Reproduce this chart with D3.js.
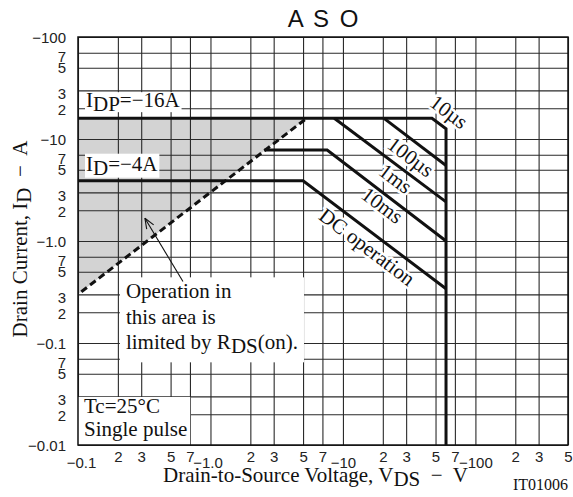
<!DOCTYPE html>
<html>
<head>
<meta charset="utf-8">
<script src="https://cdn.jsdelivr.net/npm/d3@7"></script>
<style>
    body { margin: 0; background: #fff; }
    svg text { white-space: pre; }
    .serif { font-family: "Liberation Serif", "Times New Roman", serif; font-size: 21px; fill: #111; }
    .tick text { font-family: "Liberation Sans", Arial, sans-serif; font-size: 15px; fill: #222; }
</style>
</head>
<body>
<svg id="chart" width="573" height="497"></svg>
<script>

// DATA
// P-channel part: values are magnitudes, the labels carry the minus sign

var xTicks      = [0.1, 0.2, 0.3, 0.5, 0.7, 1, 2, 3, 5, 7, 10, 20, 30, 50, 70, 100, 200, 300, 500];
var xTickLabels = ['\u22120.1', '2', '3', '5', '7', '\u22121.0', '2', '3', '5', '7',
                   '\u221210', '2', '3', '5', '7', '\u2212100', '2', '3', '5'];
var yTicks      = [0.01, 0.02, 0.03, 0.05, 0.07, 0.1, 0.2, 0.3, 0.5, 0.7, 1, 2, 3, 5, 7,
                   10, 20, 30, 50, 70, 100];
var yTickLabels = ['\u22120.01', '2', '3', '5', '7', '\u22120.1', '2', '3', '5', '7',
                   '\u22121.0', '2', '3', '5', '7', '\u221210', '2', '3', '5', '7', '\u2212100'];

// [V, I] corner points of each limit line
var curve10us   = [[0.1, 16], [47, 16], [60, 12.6], [60, 0.01]];
var curve100us  = [[20.3, 16], [60, 5.5]];
var curve1ms    = [[8.6, 16], [60, 2.42]];
var curve10ms   = [[2.55, 7.8], [7.6, 7.8], [60, 1.0]];
var curveDC     = [[0.1, 3.9], [5.0, 3.9], [60, 0.34]];

var rdsLine     = [[0.106, 0.318], [5.33, 16]];
var rdsArea     = [[0.1, 16], [5.33, 16], [0.1, 0.3]];

var curveLabels   = ['10\u00b5s', '100\u00b5s', '1ms', '10ms', 'DC operation'];
var curveLabelAt  = [[63, 18.4], [32.4, 6.66], [24.9, 4.09], [19.8, 2.24], [15.2, 0.875]];

var arrowFrom   = [0.62, 0.40];
var arrowTo     = [0.32, 1.67];


// SETUP

var svg = d3.select( '#chart' );

var plot = { left: 78, right: 568, top: 37, bottom: 445 };

var x = d3.scaleLog()
            .domain( [0.1, 500] )
            .range( [plot.left, plot.right] );
var y = d3.scaleLog()
            .domain( [0.01, 100] )
            .range( [plot.bottom, plot.top] );

var line = d3.line()
                .x( function( d ) { return x( d[0] ); } )
                .y( function( d ) { return y( d[1] ); } );


// HELPERS

// Appends serif text; parts flagged 1 are drawn as subscripts
function richText( parent, px, py, parts ) {
    var t = parent.append( 'text' )
                    .attr( 'class', 'serif' )
                    .attr( 'x', px )
                    .attr( 'y', py );
    var sub = 0;
    parts.forEach( function( p ) {
        var shift = ( p[1] - sub ) * 4;
        t.append( 'tspan' ).attr( 'dy', shift ).text( p[0] );
        sub = p[1];
    } );
    return t;
}

function whiteBox( parent, x0, y0, x1, y1 ) {
    return parent.insert( 'rect', ':first-child' )
                    .attr( 'x', x0 ).attr( 'y', y0 )
                    .attr( 'width', x1 - x0 ).attr( 'height', y1 - y0 )
                    .attr( 'fill', '#fff' );
}


// SHADED RDS(on) AREA

svg.append( 'path' )
    .datum( rdsArea )
    .attr( 'd', function( d ) { return line( d ) + 'Z'; } )
    .attr( 'fill', '#d3d3d3' );


// GRID

svg.append( 'g' )
    .attr( 'class', 'grid' )
    .attr( 'transform', 'translate(0,' + plot.bottom + ')' )
    .call( d3.axisBottom( x ).tickValues( xTicks ).tickSize( -( plot.bottom - plot.top ) ).tickFormat( '' ) );

svg.append( 'g' )
    .attr( 'class', 'grid' )
    .attr( 'transform', 'translate(' + plot.left + ',0)' )
    .call( d3.axisLeft( y ).tickValues( yTicks ).tickSize( -( plot.right - plot.left ) ).tickFormat( '' ) );

svg.selectAll( '.grid .domain' ).remove();
svg.selectAll( '.grid line' )
    .attr( 'stroke', '#2a2a2a' )
    .attr( 'stroke-width', 1.1 );


// AXIS LABELS

var xAxis = svg.append( 'g' )
                .attr( 'transform', 'translate(0,' + plot.bottom + ')' )
                .call( d3.axisBottom( x ).tickValues( xTicks ).tickSize( 0 ).tickPadding( 6 )
                        .tickFormat( function( d, i ) { return xTickLabels[i]; } ) );
xAxis.select( '.domain' ).remove();
xAxis.selectAll( 'text' )
    .attr( 'y', function( d, i ) { return xTickLabels[i].length > 1 ? 12.5 : 6; } )
    .attr( 'dx', function( d, i ) { return i === 0 ? 3 : ( i === 5 ? -3 : 0 ); } );

var yShift = { '7': 4, '5': 0, '3': 3, '2': 1 };
var yAxis = svg.append( 'g' )
                .attr( 'transform', 'translate(' + plot.left + ',0)' )
                .call( d3.axisLeft( y ).tickValues( yTicks ).tickSize( 0 ).tickPadding( 12 )
                        .tickFormat( function( d, i ) { return yTickLabels[i]; } ) );
yAxis.select( '.domain' ).remove();
yAxis.selectAll( 'text' )
    .attr( 'y', function( d, i ) {
        var l = yTickLabels[i];
        return l.length > 1 ? 1 : yShift[l];
    } );


// ANNOTATIONS

var notes = svg.append( 'g' );

var g1 = notes.append( 'g' );
var by = y( 16 ) - 11;
richText( g1, x( 0.1 ) + 8, by, [['I', 0], ['DP', 1], ['=\u221216A', 0]] );
whiteBox( g1, x( 0.1 ) + 7, by - 15, x( 0.1 ) + 8 + g1.node().getBBox().width + 1, by + 5 );

var g2 = notes.append( 'g' );
by = y( 3.9 ) - 10;
richText( g2, x( 0.1 ) + 8, by, [['I', 0], ['D', 1], ['=\u22124A', 0]] );
whiteBox( g2, x( 0.1 ) + 7, by - 17, x( 0.1 ) + 8 + g2.node().getBBox().width + 1, by + 7 );

var g3 = notes.append( 'g' );
var ox = x( 0.2 ) + 8, oy = y( 0.3 ) + 4;
richText( g3, ox, oy, [['Operation in', 0]] );
richText( g3, ox, oy + 25.5, [['this area is', 0]] );
richText( g3, ox, oy + 51, [['limited by R', 0], ['DS', 1], ['(on).', 0]] );
var b3 = g3.node().getBBox();
whiteBox( g3, ox - 6, oy - 21, b3.x + b3.width + 6, oy + 64 );

var g4 = notes.append( 'g' );
var tx = x( 0.1 ) + 6, ty = y( 0.01 ) - 32;
richText( g4, tx, ty, [['Tc=25\u00b0C', 0]] );
richText( g4, tx, ty + 23, [['Single pulse', 0]] );
var b4 = g4.node().getBBox();
whiteBox( g4, plot.left, ty - 16, b4.x + b4.width + 3, plot.bottom );


// CURVE LABELS

// Rotation follows the constant-power (slope -1) segments on screen
var angle = Math.atan2( y( curveDC[2][1] ) - y( curveDC[1][1] ),
                        x( curveDC[2][0] ) - x( curveDC[1][0] ) ) * 180 / Math.PI;

svg.append( 'g' )
    .selectAll( 'text' )
    .data( curveLabels )
    .enter().append( 'text' )
        .attr( 'class', 'serif' )
        .attr( 'text-anchor', 'middle' )
        .attr( 'dominant-baseline', 'central' )
        .attr( 'transform', function( d, i ) {
            var p = curveLabelAt[i];
            return 'translate(' + x( p[0] ) + ',' + y( p[1] ) + ') rotate(' + angle + ')';
        } )
        .attr( 'stroke', '#fff' )
        .attr( 'stroke-width', 5 )
        .attr( 'paint-order', 'stroke' )
        .text( function( d ) { return d; } );


// LIMIT LINES

svg.append( 'g' )
    .selectAll( 'path' )
    .data( [curve10us, curve100us, curve1ms, curve10ms, curveDC] )
    .enter().append( 'path' )
        .attr( 'd', line )
        .attr( 'fill', 'none' )
        .attr( 'stroke', '#111' )
        .attr( 'stroke-width', 3 );

svg.append( 'path' )
    .datum( rdsLine )
    .attr( 'd', line )
    .attr( 'fill', 'none' )
    .attr( 'stroke', '#111' )
    .attr( 'stroke-width', 3 )
    .attr( 'stroke-dasharray', '7,4' );


// FRAME

svg.append( 'rect' )
    .attr( 'x', plot.left ).attr( 'y', plot.top )
    .attr( 'width', plot.right - plot.left ).attr( 'height', plot.bottom - plot.top )
    .attr( 'fill', 'none' )
    .attr( 'stroke', '#111' )
    .attr( 'stroke-width', 1.5 );


// ARROW

var ax0 = x( arrowFrom[0] ), ay0 = y( arrowFrom[1] );
var ax1 = x( arrowTo[0] ),   ay1 = y( arrowTo[1] );
var aa = Math.atan2( ay1 - ay0, ax1 - ax0 );
var arrow = svg.append( 'g' )
                .attr( 'stroke', '#111' )
                .attr( 'stroke-width', 1.1 )
                .attr( 'fill', 'none' );
arrow.append( 'line' )
    .attr( 'x1', ax0 ).attr( 'y1', ay0 )
    .attr( 'x2', ax1 ).attr( 'y2', ay1 );
[-0.38, 0.38].forEach( function( da ) {
    arrow.append( 'line' )
        .attr( 'x1', ax1 ).attr( 'y1', ay1 )
        .attr( 'x2', ax1 - 11 * Math.cos( aa + da ) )
        .attr( 'y2', ay1 - 11 * Math.sin( aa + da ) );
} );


// TITLES

svg.append( 'text' )
    .attr( 'x', 324 ).attr( 'y', 27 )
    .attr( 'text-anchor', 'middle' )
    .style( 'font-family', '"Liberation Sans", Arial, sans-serif' )
    .style( 'font-size', '24px' )
    .style( 'letter-spacing', '2px' )
    .attr( 'fill', '#111' )
    .text( 'A S O' );

richText( svg, 163, 482, [['Drain-to-Source Voltage, V', 0], ['DS', 1], ['  \u2212  V', 0]] );

var yt = richText( svg, 0, 0, [['Drain Current, I', 0], ['D', 1], ['  \u2212  A', 0]] );
yt.attr( 'text-anchor', 'middle' )
    .attr( 'transform', 'translate(27,239) rotate(-90)' );

svg.append( 'text' )
    .attr( 'class', 'serif' )
    .attr( 'x', 513 ).attr( 'y', 490 )
    .style( 'font-size', '16px' )
    .text( 'IT01006' );

</script>
</body>
</html>
